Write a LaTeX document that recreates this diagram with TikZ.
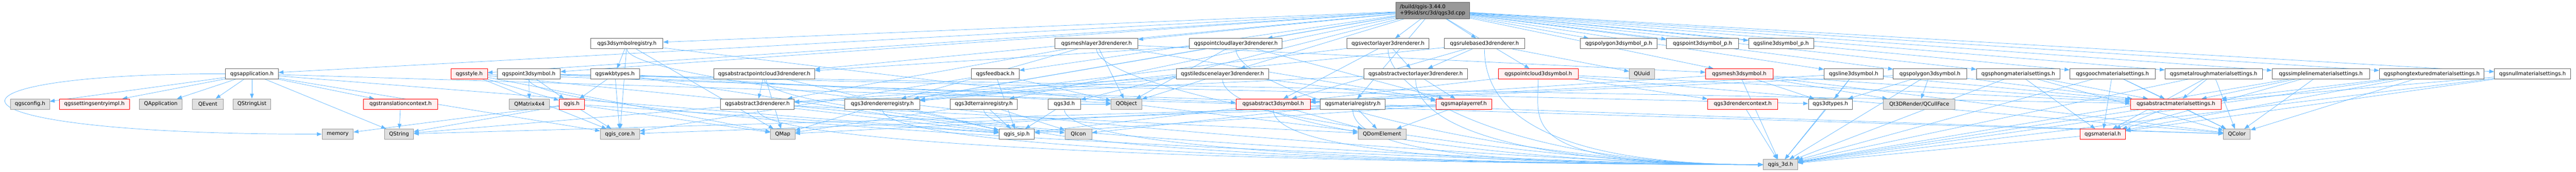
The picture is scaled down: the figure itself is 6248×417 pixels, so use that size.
\documentclass[tikz,border=0pt]{standalone}
\usepackage{fontspec}
\setmainfont{DejaVu Sans}
\usetikzlibrary{arrows.meta}
\pgfdeclarelayer{background}
\pgfsetlayers{background,main}
\definecolor{edgeblue}{HTML}{63B8FF}
\definecolor{wborder}{HTML}{666666}
\definecolor{gfill}{HTML}{E0E0E0}
\definecolor{gborder}{HTML}{999999}
\definecolor{rfill}{HTML}{FFF0F0}
\definecolor{rborder}{HTML}{FF0000}
\definecolor{rootfill}{HTML}{999999}
\newcommand{\nodefont}{\fontsize{12.7}{15}\selectfont}
\tikzset{
  nbase/.style={draw, line width=1pt, minimum height=25pt, inner sep=0pt, font=\nodefont, text=black},
  wnode/.style={nbase, fill=white, draw=wborder},
  gnode/.style={nbase, fill=gfill, draw=gborder},
  rnode/.style={nbase, fill=rfill, draw=rborder},
  rootnode/.style={nbase, fill=rootfill, draw=wborder, minimum height=40pt, align=left},
  edge/.style={draw=edgeblue, line width=0.9pt, -{Triangle[length=12pt,width=9pt]}}
}
\newcommand{\nd}[6]{\node[#5, minimum width={(#3-#2)*1pt}] (#1) at ({(#2+#3)/2},#4) {#6};}
\newcommand{\toq}[1]{\draw[edge] (#1.south) .. controls +(0,110) and +(-600,0) .. (q3dh.west);}
\begin{document}
\begin{tikzpicture}[x=1pt,y=-1pt]
\useasboundingbox (0,0) rectangle (6248,417);
% root
\node[rootnode, minimum width=179pt] (root) at (3474.5,25) {/build/qgis-3.44.0\\+99sid/src/3d/qgs3d.cpp};
% row 1
\nd{sreg}{1433}{1608}{105.8}{wnode}{qgs3dsymbolregistry.h}
\nd{meshr}{2559}{2760}{105.8}{wnode}{qgsmeshlayer3drenderer.h}
\nd{pclr}{2885}{3110}{105.8}{wnode}{qgspointcloudlayer3drenderer.h}
\nd{vlr}{3267}{3466}{105.8}{wnode}{qgsvectorlayer3drenderer.h}
\nd{rbr}{3503}{3698}{105.8}{wnode}{qgsrulebased3drenderer.h}
\nd{polyp}{3833}{4019}{105.8}{wnode}{qgspolygon3dsymbol\_p.h}
\nd{pointp}{4042}{4217}{105.8}{wnode}{qgspoint3dsymbol\_p.h}
\nd{linep}{4241}{4399}{105.8}{wnode}{qgsline3dsymbol\_p.h}
% row 2
\nd{app}{547}{675}{179.2}{wnode}{qgsapplication.h}
\nd{style}{1094}{1182}{179.2}{rnode}{qgsstyle.h}
\nd{pt3d}{1206}{1359}{179.2}{wnode}{qgspoint3dsymbol.h}
\nd{wkb}{1432}{1551}{179.2}{wnode}{qgswkbtypes.h}
\nd{apcr}{1731}{1976}{179.2}{wnode}{qgsabstractpointcloud3drenderer.h}
\nd{feedback}{2356}{2472}{179.2}{wnode}{qgsfeedback.h}
\nd{tiled}{2853}{3077}{179.2}{wnode}{qgstiledscenelayer3drenderer.h}
\nd{avlr}{3308}{3559}{179.2}{wnode}{qgsabstractvectorlayer3drenderer.h}
\nd{pcsym}{3634}{3828}{179.2}{rnode}{qgspointcloud3dsymbol.h}
\nd{quuid}{3952}{4013}{179.2}{gnode}{QUuid}
\nd{meshsym}{4137}{4300}{179.2}{rnode}{qgsmesh3dsymbol.h}
\nd{linesym}{4424}{4568}{179.2}{wnode}{qgsline3dsymbol.h}
\nd{polysym}{4592}{4770}{179.2}{wnode}{qgspolygon3dsymbol.h}
\nd{phong}{4794}{4996}{179.2}{wnode}{qgsphongmaterialsettings.h}
\nd{gooch}{5020}{5227}{179.2}{wnode}{qgsgoochmaterialsettings.h}
\nd{metal}{5251}{5487}{179.2}{wnode}{qgsmetalroughmaterialsettings.h}
\nd{sline}{5511}{5747}{179.2}{wnode}{qgssimplelinematerialsettings.h}
\nd{phongt}{5771}{6025}{179.2}{wnode}{qgsphongtexturedmaterialsettings.h}
\nd{nullm}{6050}{6235}{179.2}{wnode}{qgsnullmaterialsettings.h}
% row 3
\nd{config}{26}{120}{252.5}{gnode}{qgsconfig.h}
\nd{setimpl}{144}{314}{252.5}{rnode}{qgssettingsentryimpl.h}
\nd{qapp}{338}{442}{252.5}{gnode}{QApplication}
\nd{qevent}{466}{542}{252.5}{gnode}{QEvent}
\nd{qsl}{565}{657}{252.5}{gnode}{QStringList}
\nd{trans}{881}{1062}{252.5}{rnode}{qgstranslationcontext.h}
\nd{qmat}{1235}{1333}{252.5}{gnode}{QMatrix4x4}
\nd{qgis}{1356}{1417}{252.5}{rnode}{qgis.h}
\nd{a3dr}{1748}{1926}{252.5}{wnode}{qgsabstract3drenderer.h}
\nd{rreg}{2049}{2231}{252.5}{wnode}{qgs3drendererregistry.h}
\nd{treg}{2305}{2467}{252.5}{wnode}{qgs3dterrainregistry.h}
\nd{q3d}{2542}{2621}{252.5}{wnode}{qgs3d.h}
\nd{qobj}{2695}{2769}{252.5}{gnode}{QObject}
\nd{a3dsym}{2998}{3178}{252.5}{rnode}{qgsabstract3dsymbol.h}
\nd{matreg}{3202}{3360}{252.5}{wnode}{qgsmaterialregistry.h}
\nd{mlref}{3483}{3618}{252.5}{rnode}{qgsmaplayerref.h}
\nd{rctx}{4142}{4312}{252.5}{rnode}{qgs3drendercontext.h}
\nd{types}{4386}{4493}{252.5}{wnode}{qgs3dtypes.h}
\nd{cull}{4568}{4742}{252.5}{gnode}{Qt3DRender/QCullFace}
\nd{amat}{5167}{5388}{252.5}{rnode}{qgsabstractmaterialsettings.h}
% row 4
\nd{memory}{781}{857}{325.5}{gnode}{memory}
\nd{qstring}{933}{1003}{325.5}{gnode}{QString}
\nd{core}{1456}{1551}{325.5}{gnode}{qgis\_core.h}
\nd{qmap}{1869}{1928}{325.5}{gnode}{QMap}
\nd{sip}{2423}{2509}{325.5}{wnode}{qgis\_sip.h}
\nd{qicon}{2583}{2648}{325.5}{gnode}{QIcon}
\nd{qdom}{3294}{3410}{325.5}{gnode}{QDomElement}
\nd{material}{5045}{5155}{325.5}{rnode}{qgsmaterial.h}
\nd{qcolor}{5393}{5458}{325.5}{gnode}{QColor}
% row 5
\nd{q3dh}{4277}{4360}{399.5}{gnode}{qgis\_3d.h}

\begin{pgfonlayer}{background}
\fill[white] (0,0) rectangle (6248,417);
\foreach \t in {app,style,pt3d,sreg,apcr,rreg,feedback,treg,q3d,meshr,pclr,tiled,vlr,rbr,polyp,pointp,linep,pcsym,meshsym,linesym,polysym,phong,gooch,metal,sline,phongt,nullm,matreg}
  \draw[edge] (root) -- (\t);
\foreach \t in {config,setimpl,qapp,qevent,qsl,trans,qstring,core,sip,qcolor}
  \draw[edge] (app) -- (\t);
\draw[edge] (app.west) .. controls (-200,178) and (-200,326) .. (memory.west);
\draw[edge] (trans) -- (qstring);
\foreach \t in {qgis,core,qmap,qcolor,qicon} \draw[edge] (style) -- (\t);
\foreach \t in {qmat,qgis,a3dsym,types,amat} \draw[edge] (pt3d) -- (\t);
\foreach \t in {qgis,core,sip,qobj} \draw[edge] (wkb) -- (\t);
\foreach \t in {wkb,core,qmap,qdom} \draw[edge] (sreg) -- (\t);
\foreach \t in {core,memory,qstring,sip,qmap} \draw[edge] (qgis) -- (\t);
\foreach \t in {a3dr,sip,qmap} \draw[edge] (apcr) -- (\t);
\foreach \t in {sip,qstring,qdom} \draw[edge] (a3dr) -- (\t);
\foreach \t in {sip,qmap} \draw[edge] (rreg) -- (\t);
\foreach \t in {core,sip,qobj} \draw[edge] (feedback) -- (\t);
\foreach \t in {sip,qmap,qicon} \draw[edge] (treg) -- (\t);
\foreach \t in {sip,qobj} \draw[edge] (q3d) -- (\t);
\foreach \t in {qobj,a3dr,rreg,mlref,meshsym} \draw[edge] (meshr) -- (\t);
\foreach \t in {qobj,apcr,rreg,mlref} \draw[edge] (pclr) -- (\t);
\foreach \t in {qobj,a3dr,rreg,mlref} \draw[edge] (tiled) -- (\t);
\foreach \t in {avlr,a3dsym,rreg} \draw[edge] (vlr) -- (\t);
\foreach \t in {avlr,a3dsym,rreg,quuid} \draw[edge] (rbr) -- (\t);
\foreach \t in {mlref,a3dr} \draw[edge] (avlr) -- (\t);
\foreach \t in {qdom,qmap,qicon} \draw[edge] (matreg) -- (\t);
\foreach \t in {qdom,core,qstring,sip} \draw[edge] (mlref) -- (\t);
\foreach \t in {qdom,sip} \draw[edge] (a3dsym) -- (\t);
\foreach \t in {a3dsym,amat,qcolor,rctx} \draw[edge] (pcsym) -- (\t);
\foreach \t in {a3dsym,types,cull,amat,qcolor,q3dh} \draw[edge] (meshsym) -- (\t);
\draw[edge] (rctx) -- (q3dh);
\draw[edge] (types) -- (q3dh);
\foreach \t in {a3dsym,types,amat,q3dh} \draw[edge] (linesym) -- (\t);
\foreach \t in {a3dsym,types,cull,amat,q3dh} \draw[edge] (polysym) -- (\t);
\foreach \s in {phong,gooch,metal,sline,phongt}
  \foreach \t in {amat,material,qcolor,q3dh} \draw[edge] (\s) -- (\t);
\foreach \t in {amat,material,q3dh} \draw[edge] (nullm) -- (\t);
\foreach \t in {qcolor,material,q3dh} \draw[edge] (amat) -- (\t);
\draw[edge] (material) -- (q3dh);
\toq{pt3d}
\toq{sreg}
\toq{apcr}
\toq{a3dr}
\toq{rreg}
\toq{treg}
\toq{q3d}
\toq{meshr}
\toq{pclr}
\toq{tiled}
\toq{vlr}
\toq{rbr}
\toq{avlr}
\toq{matreg}
\toq{a3dsym}
\toq{pcsym}
\end{pgfonlayer}
\end{tikzpicture}
\end{document}
